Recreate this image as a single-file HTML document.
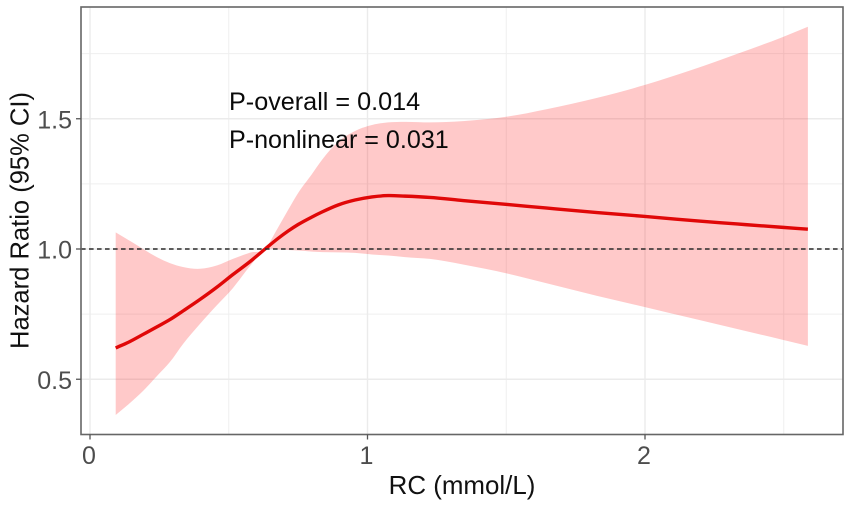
<!DOCTYPE html>
<html lang="en">
<head>
<meta charset="utf-8">
<title>Hazard Ratio vs RC</title>
<style>
html,body{margin:0;padding:0;background:#fff;}
body{width:850px;height:507px;overflow:hidden;}
svg{display:block;font-family:"Liberation Sans",Arial,sans-serif;filter:blur(0.35px);}
</style>
</head>
<body>
<svg id="chart" xmlns="http://www.w3.org/2000/svg" width="850" height="507" viewBox="0 0 850 507">
  <rect x="0" y="0" width="850" height="507" fill="#ffffff"/>
  <g id="grid"></g>
  <path id="band" fill="#ff0000" fill-opacity="0.21" stroke="none"></path>
  <path id="line" fill="none" stroke="#e00808" stroke-width="3.4" stroke-linejoin="round"></path>
  <line id="refline" stroke="#2b2b2b" stroke-width="1.4" stroke-dasharray="4.6 3.4"></line>
  <rect x="81" y="7" width="762" height="427.5" fill="none" stroke="#666666" stroke-width="1.6"/>
  <g id="axes"></g>
  <text x="462" y="494" font-size="25.9" text-anchor="middle" fill="#111111">RC (mmol/L)</text>
  <text transform="translate(28.5 220.5) rotate(-90)" font-size="26" text-anchor="middle" textLength="257" lengthAdjust="spacingAndGlyphs" fill="#111111">Hazard Ratio (95% CI)</text>
  <text x="229" y="110" font-size="25.2" fill="#0a0a0a">P-overall = 0.014</text>
  <text x="229" y="148" font-size="25.1" fill="#0a0a0a">P-nonlinear = 0.031</text>
</svg>
<script>
const rc = [0.0926,0.144,0.191,0.241,0.288,0.335,0.396,0.458,0.515,0.577,0.631,0.677,0.714,0.750,0.800,0.836,0.894,0.955,1.016,1.074,1.135,1.225,1.344,1.503,1.647,1.827,2.0,2.173,2.332,2.497,2.587];
const hazardRatio = [0.620,0.645,0.672,0.701,0.729,0.762,0.806,0.854,0.902,0.952,1.000,1.040,1.069,1.094,1.123,1.142,1.169,1.188,1.200,1.205,1.203,1.198,1.186,1.171,1.157,1.140,1.125,1.109,1.096,1.083,1.076];
const upperCI = [1.064,1.031,1.000,0.969,0.946,0.931,0.924,0.937,0.962,0.986,1.002,1.081,1.150,1.215,1.288,1.342,1.411,1.453,1.476,1.486,1.488,1.486,1.491,1.508,1.537,1.580,1.630,1.689,1.749,1.814,1.853];
const lowerCI = [0.363,0.409,0.455,0.512,0.566,0.635,0.712,0.785,0.850,0.935,0.998,0.998,0.996,0.994,0.990,0.988,0.987,0.985,0.979,0.975,0.969,0.962,0.9405,0.906,0.868,0.820,0.777,0.733,0.693,0.651,0.628];
const xTicks = [0,1,2];
const xMinorTicks = [0.5,1.5,2.5];
const yTicks = [0.5,1.0,1.5];
const yMinorTicks = [0.75,1.25,1.75];
const referenceValue = 1;

const NS = 'http://www.w3.org/2000/svg';
const panel = {left: 81, right: 843, top: 7, bottom: 434.5};
function xScale(v) { return 90 + v * 277.5; }
function yScale(v) { return 249 - (v - 1) * 260.5; }

function make(tag, attrs, parent) {
  const el = document.createElementNS(NS, tag);
  for (const k in attrs) el.setAttribute(k, attrs[k]);
  parent.appendChild(el);
  return el;
}

function slopes(pts) {
  const n = pts.length, m = [];
  for (let i = 0; i < n; i++) {
    if (i === 0) { m.push((pts[1][1] - pts[0][1]) / (pts[1][0] - pts[0][0])); continue; }
    if (i === n - 1) { m.push((pts[i][1] - pts[i - 1][1]) / (pts[i][0] - pts[i - 1][0])); continue; }
    const h0 = pts[i][0] - pts[i - 1][0], h1 = pts[i + 1][0] - pts[i][0];
    const s0 = (pts[i][1] - pts[i - 1][1]) / h0, s1 = (pts[i + 1][1] - pts[i][1]) / h1;
    m.push((s0 * h1 + s1 * h0) / (h0 + h1));
  }
  return m;
}

function smoothSegments(pts) {
  const m = slopes(pts);
  let d = '';
  for (let i = 0; i < pts.length - 1; i++) {
    const dx = (pts[i + 1][0] - pts[i][0]) / 3;
    d += ' C' + (pts[i][0] + dx).toFixed(2) + ',' + (pts[i][1] + m[i] * dx).toFixed(2) + ' ' +
      (pts[i + 1][0] - dx).toFixed(2) + ',' + (pts[i + 1][1] - m[i + 1] * dx).toFixed(2) + ' ' +
      pts[i + 1][0].toFixed(2) + ',' + pts[i + 1][1].toFixed(2);
  }
  return d;
}

const grid = document.getElementById('grid');
xMinorTicks.forEach(function (v) {
  const el = make('line', {x1: xScale(v), x2: xScale(v), y1: panel.top, y2: panel.bottom, stroke: '#efefef', 'stroke-width': 1}, grid);
  
  
});
yMinorTicks.forEach(function (v) {
  const el = make('line', {x1: panel.left, x2: panel.right, y1: yScale(v), y2: yScale(v), stroke: '#efefef', 'stroke-width': 1}, grid);
  
  
});
xTicks.forEach(function (v) {
  const el = make('line', {x1: xScale(v), x2: xScale(v), y1: panel.top, y2: panel.bottom, stroke: '#ebebeb', 'stroke-width': 1.4}, grid);
  
  
});
yTicks.forEach(function (v) {
  const el = make('line', {x1: panel.left, x2: panel.right, y1: yScale(v), y2: yScale(v), stroke: '#ebebeb', 'stroke-width': 1.4}, grid);
  
  
});

const upperPts = rc.map(function (v, i) { return [xScale(v), yScale(upperCI[i])]; });
const lowerPts = rc.map(function (v, i) { return [xScale(v), yScale(lowerCI[i])]; });
const linePts = rc.map(function (v, i) { return [xScale(v), yScale(hazardRatio[i])]; });

function reversedSegments(pts) {
  const m = slopes(pts);
  let d = '';
  for (let i = pts.length - 1; i > 0; i--) {
    const dx = (pts[i][0] - pts[i - 1][0]) / 3;
    d += ' C' + (pts[i][0] - dx).toFixed(2) + ',' + (pts[i][1] - m[i] * dx).toFixed(2) + ' ' +
      (pts[i - 1][0] + dx).toFixed(2) + ',' + (pts[i - 1][1] + m[i - 1] * dx).toFixed(2) + ' ' +
      pts[i - 1][0].toFixed(2) + ',' + pts[i - 1][1].toFixed(2);
  }
  return d;
}

const lastLower = lowerPts[lowerPts.length - 1];
document.getElementById('band').setAttribute('d',
  'M' + upperPts[0][0] + ',' + upperPts[0][1] + smoothSegments(upperPts) +
  ' L' + lastLower[0] + ',' + lastLower[1] + reversedSegments(lowerPts) + ' Z');
document.getElementById('line').setAttribute('d',
  'M' + linePts[0][0] + ',' + linePts[0][1] + smoothSegments(linePts));

const ref = document.getElementById('refline');
ref.setAttribute('x1', panel.left);
ref.setAttribute('x2', panel.right);
ref.setAttribute('y1', yScale(referenceValue));
ref.setAttribute('y2', yScale(referenceValue));

const axes = document.getElementById('axes');
xTicks.forEach(function (v) {
  const tick = make('line', {x1: xScale(v), x2: xScale(v), y1: panel.bottom, y2: panel.bottom + 5, stroke: '#555555', 'stroke-width': 1.3}, axes);
  
  
  const label = make('text', {x: xScale(v) - 1, y: 464, 'font-size': 25, 'text-anchor': 'middle', fill: '#4d4d4d'}, axes);
  
  
  label.textContent = String(v);
});
yTicks.forEach(function (v) {
  const tick = make('line', {x1: panel.left - 5, x2: panel.left, y1: yScale(v), y2: yScale(v), stroke: '#555555', 'stroke-width': 1.3}, axes);
  
  
  const label = make('text', {x: 72, y: yScale(v) + 9.5, 'font-size': 25, 'text-anchor': 'end', fill: '#4d4d4d'}, axes);
  
  
  label.textContent = v.toFixed(1);
});
</script>
</body>
</html>
